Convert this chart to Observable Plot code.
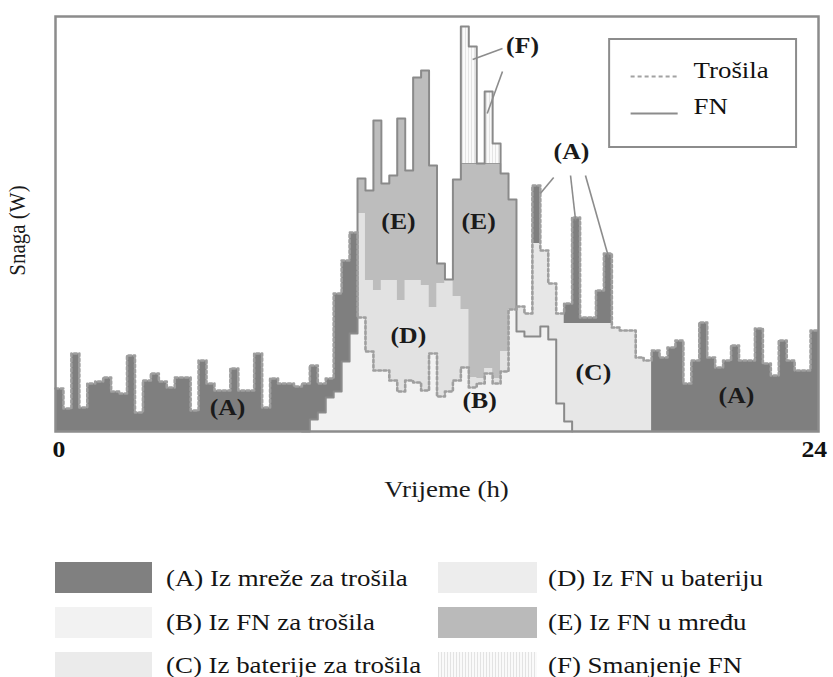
<!DOCTYPE html>
<html><head><meta charset="utf-8">
<script src="https://cdn.jsdelivr.net/npm/d3@7"></script>
<script src="https://cdn.jsdelivr.net/npm/@observablehq/plot@0.6"></script>
<style>
body{margin:0;background:#fff;}
#wrap{position:relative;width:833px;height:677px;overflow:hidden;font-family:"Liberation Serif","Times New Roman",serif;}
#wrap svg{position:absolute;left:0;top:0;}
.sw{position:absolute;height:31px;}
.lt{position:absolute;font-size:24px;color:#141414;transform:scaleX(1.12);transform-origin:0 50%;white-space:nowrap;line-height:26px;height:26px;}
</style></head><body><div id="wrap"></div>
<script>
// 15-minute steps over 24 h (96 intervals); values in arbitrary power units
const N = 96;
const hours = d3.range(N + 1).map(i => i / 4);

// Load (Trošila)
const load = [43,23,78,24,48,50,54,40,38,76,19,51,58,50,44,54,54,21,71,48,41,41,63,41,41,78,24,53,48,48,45,48,66,48,53,138,171,199,
  114,80,61,61,51,40,51,49,41,78,35,40,51,64,44,48,58,48,60,122,
  125,118,246,181,148,118,128,214,114,114,141,178,104,101,101,74,71,
  81,74,84,91,48,71,109,74,64,71,86,71,71,103,68,56,91,71,61,61,101];

// PV available (FN)
const pvAvail = [0,0,0,0,0,0,0,0,0,0,0,0,0,0,0,0,0,0,0,0,0,0,0,0,0,0,0,0,0,0,0,0,
  12,19,34,40,70,98,
  253,241,311,248,256,313,261,354,361,266,168,152,252,405,385,268,340,288,258,232,
  100,95,95,105,92,28,10,
  0,0,0,0,0,0,0,0,0,0,0,0,0,0,0,0,0,0,0,0,0,0,0,0,0,0,0,0,0,0,0];

// PV curtailment (F), starting at interval 51
const curtailStart = 51;
const curtail = [137,117,0,72,20];
// Battery charging from PV (D), starting at interval 38
const chargeStart = 38;
const charge = [104,71,80,90,100,91,100,102,105,46,113,112,84,58,10,5,5,5,20,0];
// Battery discharging to loads (C), starting at interval 58
const dischargeStart = 58;
const discharge = [25,23,93,76,56,90,98,108,108,108,108,108,104,101,101,74,71];

const seg = (arr, start, i) => (i >= start && i < start + arr.length) ? arr[i - start] : 0;

const rows = hours.map((t, k) => {
  const i = Math.min(k, N - 1);
  const L = load[i], Pa = pvAvail[i];
  const Po = Pa - seg(curtail, curtailStart, i);
  const b = Math.min(L, Po);
  const c = Math.min(seg(discharge, dischargeStart, i), Math.max(0, L - Po));
  const d = Math.min(seg(charge, chargeStart, i), Math.max(0, Po - L));
  return {k, t, L, Pa, Po, b, bc: b + c, aTop: Math.max(L, b + c),
          dTop: Po > L ? L + d : L, eTop: Po > L ? Po : L + d};
});

const px = v => (v - 55) / 31.79;   // helper for annotation placement only
const labels = [
  {text: "(A)", x: 5.41, y: 17},
  {text: "(E)", x: 10.79, y: 203},
  {text: "(E)", x: 13.31, y: 203},
  {text: "(D)", x: 11.10, y: 89},
  {text: "(B)", x: 13.34, y: 24},
  {text: "(C)", x: 16.92, y: 52},
  {text: "(A)", x: 21.42, y: 29},
  {text: "(F)", x: 14.69, y: 379},
  {text: "(A)", x: 16.23, y: 273}
];
const leaders = [
  {x1: 14.06, y1: 383, x2: 13.12, y2: 372},
  {x1: 14.06, y1: 360, x2: 13.58, y2: 318},
  {x1: 15.67, y1: 254, x2: 15.25, y2: 238},
  {x1: 16.20, y1: 256, x2: 16.36, y2: 211},
  {x1: 16.67, y1: 256, x2: 17.40, y2: 174}
];
const xTicks = [{text: "0", x: 0.11}, {text: "24", x: 23.87}];

const font = "Liberation Serif";
const step = "step-after";

const svg = Plot.plot({
  width: 833, height: 540,
  marginLeft: 55, marginRight: 15, marginTop: 16, marginBottom: 109,
  x: {domain: [0, 24], axis: null},
  y: {domain: [0, 415], axis: null},
  marks: [
    Plot.areaY(rows, {x: "t", y1: 0, y2: "b", curve: step, fill: "#f2f2f2"}),
    Plot.areaY(rows, {x: "t", y1: "b", y2: "bc", curve: step, fill: "#e7e7e7"}),
    Plot.areaY(rows, {x: "t", y1: "bc", y2: "aTop", curve: step, fill: "#7f7f7f"}),
    Plot.areaY(rows, {x: "t", y1: "L", y2: "dTop", curve: step, fill: "#e2e2e2"}),
    Plot.areaY(rows, {x: "t", y1: "dTop", y2: "eTop", curve: step, fill: "#bdbdbd"}),
    Plot.areaY(rows, {x: "t", y1: "Po", y2: "Pa", curve: step, fill: "url(#fhatch)"}),
    Plot.line(rows.filter(r => r.k >= 50 && r.k <= 56), {x: "t", y: "Po", curve: step, stroke: "#9a9a9a", strokeWidth: 1.2}),
    Plot.line(rows.filter(r => r.k >= 31 && r.k <= 65), {x: "t", y: "Pa", curve: step, stroke: "#8a8a8a", strokeWidth: 2}),
    Plot.line(rows, {x: "t", y: "L", curve: step, stroke: "#9f9f9f", strokeWidth: 2.6, strokeDasharray: "2.6,2.6"}),
    Plot.frame({stroke: "#8c8c8c", strokeWidth: 2.5}),
    // inner legend
    Plot.rect([{x1: 17.43, x2: 23.31, y1: 284, y2: 392}], {x1: "x1", x2: "x2", y1: "y1", y2: "y2", fill: "white", stroke: "#8c8c8c", strokeWidth: 2}),
    Plot.link([{x1: 18.09, x2: 19.57, y: 355}], {x1: "x1", x2: "x2", y1: "y", y2: "y", stroke: "#a2a2a2", strokeWidth: 2.2, strokeDasharray: "4,3"}),
    Plot.link([{x1: 18.09, x2: 19.57, y: 318}], {x1: "x1", x2: "x2", y1: "y", y2: "y", stroke: "#8c8c8c", strokeWidth: 2}),
    Plot.text([{text: "Trošila", y: 354}, {text: "FN", y: 318}], {x: 20.07, y: "y", text: "text", textAnchor: "start", fontFamily: font, fontSize: 24, fill: "#111"}),
    // leaders and labels
    Plot.link(leaders, {x1: "x1", y1: "y1", x2: "x2", y2: "y2", stroke: "#8c8c8c", strokeWidth: 1.6}),
    Plot.text(labels, {x: "x", y: "y", text: "text", fontFamily: font, fontWeight: "bold", fontSize: 23, fill: "#1a1a1a"}),
    // axis labels
    Plot.text(xTicks, {x: "x", y: -25, text: "text", fontFamily: font, fontWeight: "bold", fontSize: 23, fill: "#111"}),
    Plot.text(["Vrijeme (h)"], {x: 12.3, y: -65, text: d => d, fontFamily: font, fontSize: 24, fill: "#1a1a1a"}),
    Plot.text(["Snaga (W)"], {x: px(24.5), y: 201, text: d => d, rotate: -90, fontFamily: font, fontSize: 21, fill: "#1a1a1a"})
  ]
});

// hatch pattern for PV curtailment (F)
const svgNS = "http://www.w3.org/2000/svg";
const defs = document.createElementNS(svgNS, "defs");
defs.innerHTML = '<pattern id="fhatch" width="3" height="4" patternUnits="userSpaceOnUse"><rect width="3" height="4" fill="#fafafa"/><rect width="1" height="4" fill="#e4e4e4"/></pattern>';
svg.insertBefore(defs, svg.firstChild);

// widen serif glyphs horizontally like the reference
svg.querySelectorAll('g[aria-label="text"] text').forEach(el => {
  const x = +el.getAttribute("x") || 0, y = +el.getAttribute("y") || 0;
  el.removeAttribute("x"); el.removeAttribute("y");
  const t = el.getAttribute("transform") || "";
  const rot = /rotate/.test(t);
  el.setAttribute("transform", `${t} translate(${x},${y}) ${rot ? "scale(1,1.12)" : "scale(1.12,1)"}`);
});

const wrap = document.getElementById("wrap");
wrap.appendChild(svg);

// bottom legend
const legendItems = [
  {label: "(A) Iz mreže za trošila", bg: "#808080", col: 0, row: 0},
  {label: "(B) Iz FN za trošila", bg: "#f2f2f2", col: 0, row: 1},
  {label: "(C) Iz baterije za trošila", bg: "#ebebeb", col: 0, row: 2},
  {label: "(D) Iz FN u bateriju", bg: "#ededed", col: 1, row: 0},
  {label: "(E) Iz FN u mređu", bg: "#bababa", col: 1, row: 1},
  {label: "(F) Smanjenje FN", bg: "repeating-linear-gradient(90deg,#e3e3e3 0 1px,#fafafa 1px 3px)", col: 1, row: 2}
];
const swX = [55, 438], swW = [97, 99], txtX = [166, 548];
const swTop = [562, 607, 652], txtMid = [578, 622, 665];
legendItems.forEach(it => {
  const s = document.createElement("div");
  s.className = "sw";
  s.style.left = swX[it.col] + "px";
  s.style.width = swW[it.col] + "px";
  s.style.top = swTop[it.row] + "px";
  s.style.background = it.bg;
  wrap.appendChild(s);
  const t = document.createElement("div");
  t.className = "lt";
  t.style.left = txtX[it.col] + "px";
  t.style.top = (txtMid[it.row] - 13) + "px";
  t.textContent = it.label;
  wrap.appendChild(t);
});
</script></body></html>
